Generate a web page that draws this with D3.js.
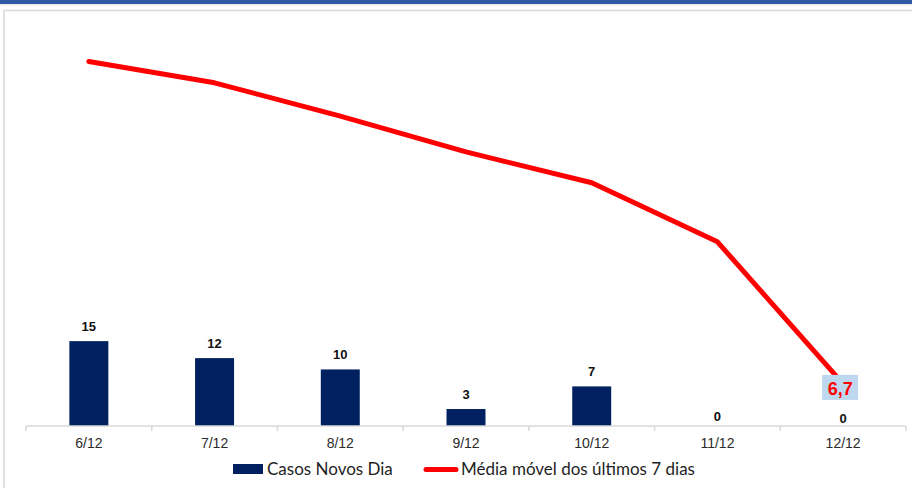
<!DOCTYPE html>
<html>
<head>
<meta charset="utf-8">
<script src="https://cdn.jsdelivr.net/npm/d3@7"></script>
<style>
  html, body { margin: 0; padding: 0; background: #fff; }
  svg { display: block; }
</style>
</head>
<body>
<div id="chart"></div>
<script>
// data
const dias = ["6/12", "7/12", "8/12", "9/12", "10/12", "11/12", "12/12"];
const casosNovos = [15, 12, 10, 3, 7, 0, 0];
const mediaMovel = [58.0, 54.6, 49.3, 43.6, 38.7, 29.3, 6.7];
const serieNomes = ["Casos Novos Dia", "Média móvel dos últimos 7 dias"];

const width = 912, height = 488;
const x0 = 26, x1 = 906, baseY = 426, topY = 30;

const svg = d3.select("#chart").append("svg")
  .attr("width", width)
  .attr("height", height);

// header stripe and frame
svg.append("rect").attr("x", 0).attr("y", 0).attr("width", width).attr("height", 4)
  .attr("fill", "#3158a3");
svg.append("line").attr("x1", 0).attr("x2", width).attr("y1", 4.7).attr("y2", 4.7)
  .attr("stroke", "#e2e2e2").attr("stroke-width", 1);
svg.append("path")
  .attr("d", "M4," + height + "V10.5H" + width)
  .attr("fill", "none")
  .attr("stroke", "#d9d9d9")
  .attr("stroke-width", 1.6);

const x = d3.scaleBand()
  .domain(dias)
  .range([x0, x1])
  .paddingInner(0.69)
  .paddingOuter(0.345);

const y = d3.scaleLinear().domain([0, 70]).range([baseY, topY]);
const y2 = d3.scaleLinear().domain([0, 63]).range([baseY, topY]);

// bars
svg.selectAll(".bar")
  .data(dias)
  .enter().append("rect")
  .attr("class", "bar")
  .attr("x", d => x(d))
  .attr("y", (d, i) => y(casosNovos[i]))
  .attr("width", x.bandwidth())
  .attr("height", (d, i) => baseY - y(casosNovos[i]))
  .attr("fill", "#002060");

// x axis line with ticks between categories
const ax = svg.append("g").attr("stroke", "#d9d9d9").attr("stroke-width", 1.5);
ax.append("line").attr("x1", x0).attr("x2", x1).attr("y1", baseY).attr("y2", baseY);
ax.selectAll(".tk")
  .data(d3.range(dias.length + 1))
  .enter().append("line")
  .attr("x1", i => x0 + i * x.step())
  .attr("x2", i => x0 + i * x.step())
  .attr("y1", baseY)
  .attr("y2", baseY + 5);

svg.selectAll(".xlab")
  .data(dias)
  .enter().append("text")
  .attr("x", d => x(d) + x.bandwidth() / 2)
  .attr("y", 448)
  .attr("text-anchor", "middle")
  .style("font-family", "'Liberation Sans', Arial, sans-serif")
  .style("font-size", "14px")
  .attr("fill", "#2b2b2b")
  .text(d => d);

// bar value labels
svg.selectAll(".vlab")
  .data(dias)
  .enter().append("text")
  .attr("x", d => x(d) + x.bandwidth() / 2)
  .attr("y", (d, i) => casosNovos[i] > 0 ? y(casosNovos[i]) - 10 : baseY - (i === dias.length - 1 ? 3 : 5))
  .attr("text-anchor", "middle")
  .style("font-family", "'Liberation Sans', Arial, sans-serif")
  .style("font-size", "13px")
  .style("font-weight", "bold")
  .attr("fill", "#111")
  .text((d, i) => casosNovos[i]);

// moving average line
const line = d3.line()
  .x((d, i) => x(dias[i]) + x.bandwidth() / 2)
  .y(d => y2(d));

svg.append("path")
  .datum(mediaMovel)
  .attr("fill", "none")
  .attr("stroke", "#ff0000")
  .attr("stroke-width", 5)
  .attr("stroke-linecap", "round")
  .attr("stroke-linejoin", "round")
  .attr("d", line);

// label on last point
const last = mediaMovel.length - 1;
const lx = x(dias[last]) + x.bandwidth() / 2 - 3;
const ly = y2(mediaMovel[last]);
svg.append("rect")
  .attr("x", lx - 18).attr("y", ly - 9)
  .attr("width", 36).attr("height", 25)
  .attr("fill", "#bdd7ee");
svg.append("text")
  .attr("x", lx)
  .attr("y", ly + 11)
  .attr("text-anchor", "middle")
  .style("font-family", "'Liberation Sans', Arial, sans-serif")
  .style("font-size", "18px")
  .style("font-weight", "bold")
  .attr("fill", "#ff0000")
  .text(d3.format(".1f")(mediaMovel[last]).replace(".", ","));

// legend
const lg = svg.append("g")
  .style("font-family", "Lato, 'Open Sans', sans-serif")
  .style("font-size", "17px")
  .attr("fill", "#1f1f1f");
lg.append("rect").attr("x", 233).attr("y", 464).attr("width", 30).attr("height", 10)
  .attr("fill", "#002060");
lg.append("text").attr("x", 267).attr("y", 475).text(serieNomes[0]);
lg.append("line").attr("x1", 426).attr("x2", 456).attr("y1", 469.5).attr("y2", 469.5)
  .attr("stroke", "#ff0000").attr("stroke-width", 5).attr("stroke-linecap", "round");
lg.append("text").attr("x", 461).attr("y", 475).text(serieNomes[1]);
</script>
</body>
</html>
